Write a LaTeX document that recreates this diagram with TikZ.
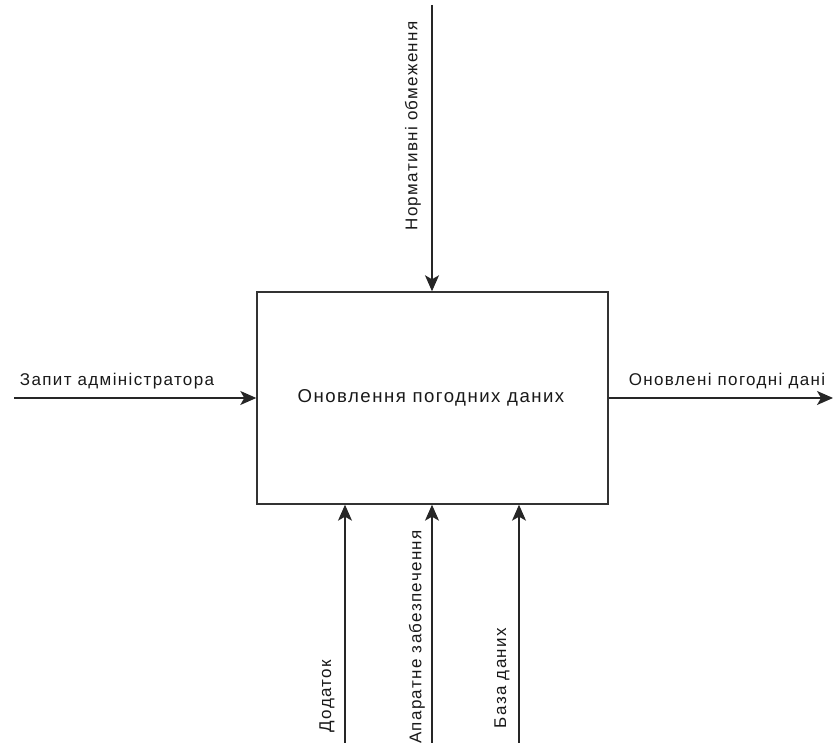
\documentclass[tikz,border=0pt]{standalone}
\usepackage{fontspec}
\setmainfont{Liberation Sans}[LetterSpace=8]
\usetikzlibrary{arrows.meta}
\begin{document}
\begin{tikzpicture}[x=1pt,y=1pt,
  flow/.style={draw=black!85,line width=1.3pt,-{Stealth[length=16pt,width=14pt,inset=4pt]}},
  func/.style={draw=black!80,line width=1.4pt,fill=white,minimum width=351pt,minimum height=212pt,inner sep=0pt},
  lbl/.style={font=\fontsize{17}{20}\selectfont,text=black!90,inner sep=0pt}]
\useasboundingbox (0,0) rectangle (833,743);
% function block
\node[func] (box) at (432.5,345) {};
\node[lbl,font=\fontsize{18.6}{22}\selectfont] (title) at (431,345) {Оновлення погодних даних};
% end points of the arrows
\coordinate (ctop) at (432,738);
\coordinate (inl) at (14,345);
\coordinate (outr) at (833,345);
\coordinate (m1) at (345,0);
\coordinate (m2) at (432,0);
\coordinate (m3) at (519,0);
% control
\draw[flow] (ctop) -- (box.north -| ctop);
\node[lbl,rotate=90] (lctl) at (413,617) {Нормативні обмеження};
% input
\draw[flow] (inl) -- (box.west |- inl);
\node[lbl] (lin) at (117,362) {Запит адміністратора};
% output
\draw[flow] (box.east |- outr) -- (outr);
\node[lbl] (lout) at (727,362) {Оновлені погодні дані};
% mechanisms
\draw[flow] (m1) -- (box.south -| m1);
\draw[flow] (m2) -- (box.south -| m2);
\draw[flow] (m3) -- (box.south -| m3);
\node[lbl,rotate=90] (lm1) at (327,47) {Додаток};
\node[lbl,rotate=90] (lm2) at (417,106) {Апаратне забезпечення};
\node[lbl,rotate=90] (lm3) at (502,65) {База даних};
\end{tikzpicture}
\end{document}
